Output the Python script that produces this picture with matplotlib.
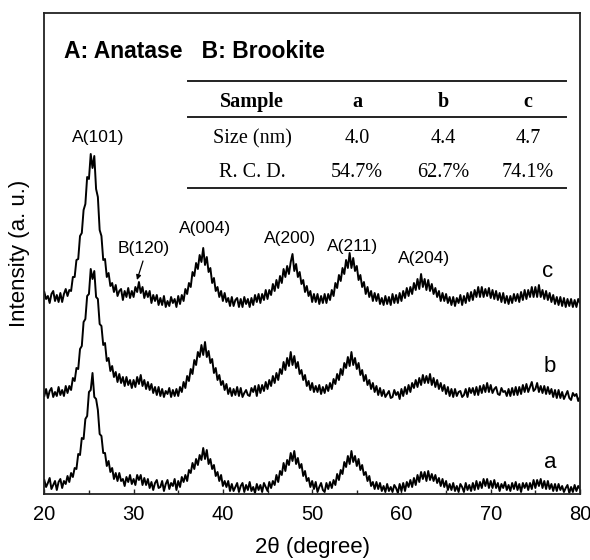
import numpy as np
import matplotlib
matplotlib.use("Agg")
import matplotlib.pyplot as plt
from matplotlib.lines import Line2D
from matplotlib.ticker import MultipleLocator

plt.rcParams["font.family"] = ["Liberation Sans", "DejaVu Sans"]

# ---- XRD scans: 2-theta from 20 to 80 degrees, 0.2 degree step ----
two_theta = np.linspace(20, 80, 301)

# one row = 2 degrees (10 points)
intensity_a = [
    14, 7, 11, 16, 5, 9, 13, 4, 12, 15,
    6, 13, 10, 18, 12, 21, 17, 26, 25, 40,
    39, 56, 55, 75, 78, 102, 104, 121, 97, 95,
    84, 60, 58, 41, 41, 28, 33, 22, 26, 15,
    21, 13, 21, 13, 15, 8, 17, 12, 19, 10,
    15, 9, 19, 14, 19, 9, 16, 9, 15, 6,
    12, 4, 11, 14, 6, 7, 13, 3, 10, 14,
    5, 11, 8, 15, 4, 13, 7, 17, 12, 19,
    13, 24, 21, 31, 25, 35, 29, 39, 34, 46,
    35, 44, 30, 35, 25, 29, 18, 22, 13, 19,
    8, 13, 7, 13, 3, 10, 3, 7, 11, 2,
    8, 11, 2, 9, 4, 12, 3, 7, 1, 10,
    4, 9, 2, 11, 7, 3, 12, 6, 13, 9,
    19, 12, 23, 19, 31, 23, 34, 29, 41, 33,
    43, 30, 36, 26, 30, 18, 23, 13, 16, 7,
    13, 5, 12, 2, 7, 11, 4, 2, 11, 5,
    12, 6, 14, 9, 20, 14, 24, 20, 32, 27,
    38, 30, 43, 32, 38, 28, 35, 24, 29, 19,
    22, 13, 18, 8, 12, 5, 12, 5, 11, 3,
    8, 2, 10, 3, 7, 2, 9, 6, 1, 10,
    3, 11, 3, 12, 7, 14, 7, 16, 9, 19,
    12, 22, 15, 22, 13, 23, 14, 20, 13, 19,
    11, 16, 8, 15, 7, 13, 4, 10, 4, 11,
    3, 8, 2, 10, 7, 2, 11, 4, 9, 3,
    11, 4, 13, 5, 12, 6, 15, 8, 15, 6,
    13, 6, 14, 6, 11, 3, 10, 6, 12, 4,
    9, 3, 11, 5, 12, 4, 10, 2, 11, 6,
    11, 4, 11, 5, 14, 6, 14, 8, 15, 6,
    13, 5, 13, 5, 10, 3, 10, 3, 10, 4,
    8, 2, 6, 9, 1, 7, 2, 9, 3, 8,
    5,
]

intensity_b = [
    8, 15, 6, 13, 16, 7, 12, 8, 17, 9,
    14, 8, 18, 11, 18, 14, 26, 23, 36, 35,
    55, 58, 82, 85, 108, 110, 135, 125, 133, 107,
    105, 80, 78, 59, 61, 43, 46, 33, 38, 27,
    32, 22, 30, 21, 27, 18, 27, 19, 24, 16,
    24, 17, 27, 20, 29, 18, 24, 15, 22, 14,
    20, 11, 17, 9, 17, 8, 15, 7, 13, 10,
    16, 7, 14, 8, 15, 8, 17, 12, 22, 16,
    28, 23, 35, 30, 44, 39, 52, 47, 59, 49,
    62, 47, 53, 41, 45, 31, 36, 24, 29, 19,
    23, 14, 20, 10, 16, 8, 15, 9, 17, 8,
    16, 7, 11, 14, 9, 8, 16, 12, 18, 8,
    19, 11, 19, 13, 22, 15, 24, 18, 28, 21,
    31, 24, 35, 30, 42, 34, 46, 38, 52, 39,
    48, 36, 42, 30, 34, 24, 29, 18, 23, 14,
    21, 12, 18, 12, 19, 10, 17, 11, 19, 13,
    21, 15, 25, 20, 30, 24, 35, 29, 41, 36,
    47, 38, 52, 39, 46, 35, 41, 29, 34, 23,
    29, 19, 24, 15, 21, 12, 18, 9, 16, 8,
    14, 7, 10, 13, 6, 7, 14, 9, 12, 5,
    15, 8, 17, 10, 19, 12, 21, 16, 24, 17,
    26, 19, 29, 21, 28, 21, 30, 19, 26, 17,
    24, 15, 21, 13, 19, 10, 17, 8, 15, 7,
    15, 8, 12, 13, 7, 9, 15, 7, 16, 11,
    16, 9, 17, 9, 18, 11, 19, 12, 21, 12,
    19, 11, 15, 17, 10, 9, 16, 12, 13, 8,
    15, 8, 16, 9, 17, 9, 17, 10, 19, 12,
    20, 12, 17, 22, 13, 15, 21, 12, 18, 11,
    18, 10, 17, 10, 15, 7, 14, 6, 14, 6,
    12, 5, 9, 13, 6, 4, 11, 8, 10, 3,
    7,
]

intensity_c = [
    22, 15, 18, 11, 20, 23, 13, 19, 12, 21,
    12, 20, 25, 18, 24, 23, 37, 37, 54, 55,
    78, 81, 104, 110, 137, 135, 160, 146, 158, 125,
    117, 84, 78, 54, 55, 37, 41, 28, 31, 22,
    29, 18, 23, 25, 14, 23, 17, 26, 16, 23,
    17, 27, 22, 32, 21, 27, 16, 23, 17, 23,
    11, 19, 13, 19, 9, 16, 9, 18, 7, 13,
    8, 17, 11, 15, 7, 18, 10, 19, 13, 25,
    20, 31, 27, 42, 38, 51, 45, 59, 52, 66,
    49, 57, 42, 46, 31, 36, 23, 27, 17, 23,
    13, 21, 12, 16, 8, 17, 8, 14, 16, 7,
    15, 7, 17, 10, 15, 7, 16, 9, 19, 12,
    20, 11, 20, 14, 24, 15, 24, 19, 30, 23,
    34, 26, 38, 31, 45, 37, 48, 40, 52, 60,
    43, 50, 37, 42, 30, 34, 22, 28, 18, 23,
    12, 20, 12, 20, 10, 18, 11, 20, 11, 20,
    14, 24, 18, 31, 26, 39, 33, 46, 40, 54,
    46, 61, 46, 56, 43, 48, 34, 39, 27, 32,
    20, 27, 17, 23, 13, 21, 13, 20, 10, 16,
    9, 18, 10, 17, 9, 20, 11, 19, 11, 21,
    13, 23, 16, 26, 18, 27, 20, 31, 24, 35,
    25, 40, 27, 35, 24, 34, 23, 30, 20, 26,
    17, 23, 13, 21, 13, 20, 11, 17, 9, 17,
    8, 16, 11, 19, 9, 18, 11, 21, 13, 22,
    14, 24, 17, 27, 17, 27, 17, 25, 18, 26,
    16, 24, 15, 23, 14, 21, 12, 21, 11, 18,
    10, 18, 11, 20, 13, 20, 12, 22, 14, 24,
    15, 24, 17, 27, 17, 27, 17, 29, 17, 24,
    15, 23, 14, 21, 12, 19, 10, 17, 9, 17,
    8, 16, 7, 15, 8, 15, 7, 14, 7, 15,
    11,
]

sample_names = ["a", "b", "c"]
stack_offsets = [0, 90, 180]

# ---- peak assignments ----
peak_labels = ["A(101)", "B(120)", "A(004)", "A(200)", "A(211)", "A(204)"]

# ---- inset table ----
table_header = ["Sample", "a", "b", "c"]
table_size = ["Size (nm)", "4.0", "4.4", "4.7"]
table_rcd = ["R. C. D.", "54.7%", "62.7%", "74.1%"]

W, H = 590, 560
fig = plt.figure(figsize=(W / 100, H / 100), dpi=100)
ax_left, ax_right, ax_top, ax_bottom = 44.3, 580.0, 13.3, 494.0
ax = fig.add_axes([ax_left / W, 1 - ax_bottom / H,
                   (ax_right - ax_left) / W, (ax_bottom - ax_top) / H])


def fpos(px, py):
    """Figure-fraction position from pixel coordinates (origin top-left)."""
    return px / W, 1 - py / H


for vals, off in zip([intensity_a, intensity_b, intensity_c], stack_offsets):
    ax.plot(two_theta, np.asarray(vals) + off, color="black", lw=1.4)

ax.set_xlim(20, 80)
ax.set_ylim(0, ax_bottom - ax_top)
ax.set_yticks([])
ax.xaxis.set_major_locator(MultipleLocator(10))
ax.xaxis.set_minor_locator(MultipleLocator(5))
ax.tick_params(axis="x", which="both", direction="in", labelsize=14.5,
               pad=8, width=1.0, color="#222222")
ax.tick_params(axis="x", which="major", length=3.5)
ax.tick_params(axis="x", which="minor", length=3.0)
for sp in ax.spines.values():
    sp.set_linewidth(1.3)
    sp.set_color("#222222")

ax.set_xlabel("2\u03b8 (degree)", fontsize=16)
ax.xaxis.set_label_coords(0.5, (ax_bottom - 547) / (ax_bottom - ax_top))
ax.xaxis.label.set_va("center")
ax.set_ylabel("Intensity (a. u.)", fontsize=16)
ax.yaxis.set_label_coords((20 - ax_left) / (ax_right - ax_left), 0.5)
ax.yaxis.label.set_va("center")

# phase legend
fig.text(*fpos(64, 58), "A: Anatase   B: Brookite", fontsize=16.5,
         fontweight="bold", ha="left", va="baseline")

# peak labels
peak_label_pos = [(98, 142), (144, 253), (205, 233), (290, 243), (353, 251), (424, 263)]
for lab, (px, py) in zip(peak_labels, peak_label_pos):
    fig.text(*fpos(px, py), lab, fontsize=12.5, ha="center", va="baseline")

ax.annotate("", xy=fpos(137, 280), xycoords="figure fraction",
            xytext=fpos(143, 261), textcoords="figure fraction",
            arrowprops=dict(arrowstyle="-|>", lw=0.9, color="black",
                            mutation_scale=7, shrinkA=0, shrinkB=0))

# sample tags beside each trace
for name, (px, py) in zip(sample_names, [(550, 468), (550, 372), (548, 277)]):
    fig.text(*fpos(px, py), name, fontsize=16, ha="center", va="baseline")

# table
col_x = [252, 357, 443, 528]
for y in [81, 117, 188]:
    x0, y0 = fpos(188, y)
    x1, _ = fpos(566, y)
    fig.add_artist(Line2D([x0, x1], [y0, y0], transform=fig.transFigure,
                          color="#222222", lw=1.4))
serif = ["Liberation Serif", "DejaVu Serif"]
for row, base_y, weight in [(table_header, 107, "bold"),
                            (table_size, 143, "normal"),
                            (table_rcd, 177, "normal")]:
    for cx, txt in zip(col_x, row):
        fig.text(*fpos(cx, base_y), txt, fontsize=14.5, family=serif,
                 fontweight=weight, ha="center", va="baseline")

fig.savefig("out.png", dpi=100)
